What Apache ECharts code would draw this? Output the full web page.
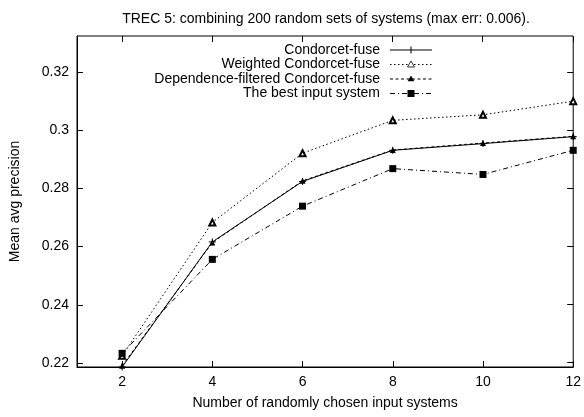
<!DOCTYPE html>
<html><head><meta charset="utf-8">
<script src="https://cdn.jsdelivr.net/npm/echarts@6/dist/echarts.min.js"></script>
<style>html,body{margin:0;padding:0;background:#fff}#c{width:584px;height:417px}</style>
</head><body><div id="c"></div>
<script>
var titleText = 'TREC 5: combining 200 random sets of systems (max err: 0.006).';
var xName = 'Number of randomly chosen input systems';
var yName = 'Mean avg precision';
var xValues = [2, 4, 6, 8, 10, 12];
var xTicks = [2, 4, 6, 8, 10, 12];
var yTicks = [0.22, 0.24, 0.26, 0.28, 0.30, 0.32];
var seriesNames = ['Condorcet-fuse', 'Weighted Condorcet-fuse', 'Dependence-filtered Condorcet-fuse', 'The best input system'];
var condorcet = [0.2186, 0.2616, 0.2824, 0.2931, 0.2954, 0.2978];
var weighted = [0.2225, 0.2683, 0.2921, 0.3034, 0.3053, 0.3100];
var dependence = [0.2190, 0.2614, 0.2826, 0.2932, 0.2956, 0.2979];
var best = [0.2233, 0.2556, 0.2739, 0.2868, 0.2848, 0.2931];

var X_MIN = 1, X_MAX = 12, Y_MIN = 0.2186, Y_MAX = 0.3324;
var FONT = 'Liberation Sans';
var plus = 'path://M0,5L10,5M5,0L5,10';
var dashes = ['solid', [1.5, 2.5], [3, 2.5], [5, 3, 1, 3]];
function pairs(v){ return xValues.map(function(x,i){return [x, v[i]];}); }
var chart = echarts.init(document.getElementById('c'), null, {renderer:'canvas'});

// legend drawn as graphic (key only, no data)
var legX = 380, legL1 = 390, legL2 = 432, legMid = 411;
var rows = [50, 64.5, 79, 93.5];
var graphics = [];
seriesNames.forEach(function(n, i){
  var y = rows[i];
  graphics.push({type:'text', x:legX, y:y, style:{text:n, align:'right', verticalAlign:'middle',
    font:'14px "' + FONT + '"', fill:'#000'}});
  graphics.push({type:'line', shape:{x1:legL1, y1:y, x2:legL2, y2:y},
    style:{stroke:'#000', lineWidth:1, lineDash: i === 0 ? null : dashes[i]}});
});
graphics.push({type:'line', shape:{x1:legMid, y1:rows[0]-3.5, x2:legMid, y2:rows[0]+3.5}, style:{stroke:'#000', lineWidth:1}});
graphics.push({type:'polygon', shape:{points:[[legMid, rows[1]-3.5],[legMid-3.5, rows[1]+2.5],[legMid+3.5, rows[1]+2.5]]},
  style:{fill:'#fff', stroke:'#000', lineWidth:0.8}});
graphics.push({type:'polygon', shape:{points:[[legMid, rows[2]-3],[legMid-3, rows[2]+2],[legMid+3, rows[2]+2]]},
  style:{fill:'#000', stroke:'#000', lineWidth:0.5}});
graphics.push({type:'rect', shape:{x:legMid-3.5, y:rows[3]-3.5, width:7, height:7}, style:{fill:'#000'}});

var axisLine = {show:true, onZero:false, lineStyle:{color:'#000', width:1}};
chart.setOption({
  animation:false,
  backgroundColor:'#fff',
  title:{text:titleText, left:321, top:7, textAlign:'center',
    textStyle:{fontFamily:FONT, fontSize:14, fontWeight:'normal', color:'#000'}},
  grid:{left:77, right:10, top:36, bottom:50, show:true, borderColor:'#000', borderWidth:1, backgroundColor:'transparent'},
  xAxis:{type:'value', min:X_MIN, max:X_MAX, position:'bottom', axisLine:axisLine, splitLine:{show:false},
      name:xName, nameLocation:'middle', nameGap:29,
      nameTextStyle:{fontFamily:FONT, fontSize:14, color:'#000'},
      axisTick:{show:true, inside:true, length:6, customValues:xTicks, lineStyle:{color:'#000'}},
      axisLabel:{show:true, customValues:xTicks, fontFamily:FONT, fontSize:14, color:'#000', margin:8}},
  yAxis:{type:'value', min:Y_MIN, max:Y_MAX, position:'left', axisLine:axisLine, splitLine:{show:false},
      name:yName, nameLocation:'middle', nameGap:55, nameRotate:90,
      nameTextStyle:{fontFamily:FONT, fontSize:14, color:'#000'},
      axisTick:{show:true, inside:true, length:6, customValues:yTicks, lineStyle:{color:'#000'}},
      axisLabel:{show:true, customValues:yTicks, fontFamily:FONT, fontSize:14, color:'#000', margin:8,
        formatter:function(v){return String(+v.toFixed(2));}}},
  graphic:graphics,
  series:[
    {name:seriesNames[0], type:'line', data:pairs(condorcet), symbol:plus, symbolSize:7,
      lineStyle:{color:'#000', width:1, type:'solid'},
      itemStyle:{color:'#000', borderColor:'#000', borderWidth:1}},
    {name:seriesNames[1], type:'line', data:pairs(weighted), symbol:'emptyTriangle', symbolSize:6,
      lineStyle:{color:'#000', width:1, type:dashes[1]},
      itemStyle:{color:'#000', borderColor:'#000', borderWidth:0.8}},
    {name:seriesNames[2], type:'line', data:pairs(dependence), symbol:'triangle', symbolSize:6,
      lineStyle:{color:'#000', width:1, type:dashes[2]},
      itemStyle:{color:'#000', borderColor:'#000', borderWidth:0}},
    {name:seriesNames[3], type:'line', data:pairs(best), symbol:'rect', symbolSize:7,
      lineStyle:{color:'#000', width:1, type:dashes[3]},
      itemStyle:{color:'#000', borderColor:'#000', borderWidth:0}}
  ]
});

// mirrored ticks on top and right edges, positioned via the axes' own scales
function crisp(v){ return Math.round(v - 0.5) + 0.5; }
var mirror = [];
xTicks.forEach(function(t){
  var p = chart.convertToPixel({seriesIndex:0}, [t, Y_MAX]);
  var x = crisp(p[0]);
  mirror.push({type:'line', shape:{x1:x, y1:p[1], x2:x, y2:p[1] + 6}, style:{stroke:'#000', lineWidth:1}});
});
yTicks.forEach(function(t){
  var p = chart.convertToPixel({seriesIndex:0}, [X_MAX, t]);
  var y = crisp(p[1]);
  mirror.push({type:'line', shape:{x1:p[0], y1:y, x2:p[0] - 6, y2:y}, style:{stroke:'#000', lineWidth:1}});
});
chart.setOption({graphic: graphics.concat(mirror)});
</script></body></html>
